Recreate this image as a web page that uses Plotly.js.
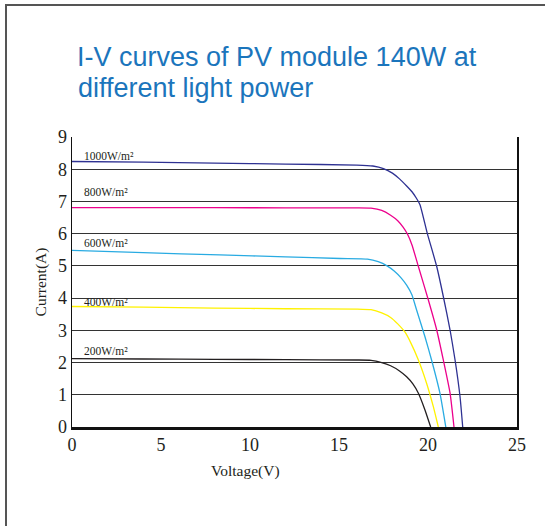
<!DOCTYPE html>
<html>
<head>
<meta charset="utf-8">
<script src="https://cdn.plot.ly/plotly-3.0.1.min.js"></script>
<style>
html,body{margin:0;padding:0;background:#fff;}
#wrap{position:relative;width:545px;height:526px;overflow:hidden;}
#chart{position:absolute;left:0;top:0;width:545px;height:526px;}
#frame{position:absolute;left:5px;top:4px;width:600px;height:600px;border-left:2px solid #555;border-top:2px solid #555;pointer-events:none;}
</style>
</head>
<body>
<div id="wrap"><div id="chart"></div><div id="frame"></div></div>
<script>
// Irradiance levels
const seriesNames = ['1000W/m²','800W/m²','600W/m²','400W/m²','200W/m²'];
const seriesColors = ['#2e3192','#ec008c','#29abe2','#fff200','#231f20'];

// Voltage (V) / Current (A)
const v1000 = [0, 4, 8, 12, 16, 16.9, 17.5, 18.0, 18.4, 18.8, 19.1, 19.35, 19.55, 19.96, 20.49, 20.86, 21.24, 21.52, 21.8, 21.95];
const i1000 = [8.24, 8.22, 8.19, 8.16, 8.13, 8.10, 8.02, 7.88, 7.70, 7.48, 7.30, 7.10, 6.90, 6.01, 4.98, 4.05, 3.01, 2.08, 0.94, 0];

const v800 = [0, 4, 8, 12, 16, 16.8, 17.4, 17.9, 18.3, 18.6, 18.85, 19.1, 19.46, 20.02, 20.49, 20.86, 21.24, 21.46];
const i800 = [6.81, 6.81, 6.81, 6.80, 6.80, 6.79, 6.72, 6.57, 6.40, 6.20, 5.98, 5.65, 4.98, 3.94, 3.01, 2.08, 1.05, 0];

const v600 = [0, 4, 8.3, 12, 15.06, 16.6, 17.2, 17.7, 18.1, 18.5, 18.8, 19.1, 19.36, 19.83, 20.2, 20.67, 21.0];
const i600 = [5.48, 5.41, 5.34, 5.28, 5.23, 5.21, 5.13, 5.00, 4.84, 4.62, 4.40, 4.10, 3.63, 2.80, 2.08, 1.05, 0];

const v400 = [0, 4, 8, 12, 16, 16.8, 17.4, 17.9, 18.3, 18.7, 19.0, 19.46, 19.92, 20.3, 20.58];
const i400 = [3.74, 3.72, 3.69, 3.67, 3.66, 3.64, 3.54, 3.40, 3.20, 2.95, 2.65, 2.08, 1.36, 0.63, 0];

const v200 = [0, 4, 8, 12, 16, 16.8, 17.4, 17.9, 18.4, 18.8, 19.15, 19.46, 19.83, 20.15];
const i200 = [2.12, 2.11, 2.10, 2.09, 2.08, 2.07, 2.00, 1.90, 1.74, 1.56, 1.34, 1.05, 0.53, 0];

// label positions (data units)
const labelV = [0.55, 0.55, 0.55, 0.55, 0.55];
const labelI = [8.42, 7.30, 5.71, 3.88, 2.36];

const xTicks = [0, 5, 10, 15, 20, 25];
const yTicks = [0, 1, 2, 3, 4, 5, 6, 7, 8, 9];

const titleLines = ['I-V curves of PV module 140W at', 'different light power'];

const vs = [v1000, v800, v600, v400, v200];
const is = [i1000, i800, i600, i400, i200];

const traces = vs.map((v, k) => ({
  x: v, y: is[k], type: 'scatter', mode: 'lines', name: seriesNames[k],
  line: {color: seriesColors[k], width: 1.3, shape: 'spline', smoothing: 0.5},
  hoverinfo: 'skip'
}));

const serif = 'Liberation Serif, Times New Roman, serif';
const annotations = seriesNames.map((n, k) => ({
  x: labelV[k], y: labelI[k], xref: 'x', yref: 'y', text: n, showarrow: false,
  xanchor: 'left', yanchor: 'middle',
  font: {family: serif, size: 11.5, color: '#231f20'}
}));
annotations.push({
  x: (245 - 72) / 445, y: -44 / 290, xref: 'paper', yref: 'paper', text: 'Voltage(V)',
  showarrow: false, xanchor: 'center', yanchor: 'middle',
  font: {family: serif, size: 15.5, color: '#231f20'}
});
annotations.push({
  x: (76 - 72) / 445, y: (427 - 88) / 290, xref: 'paper', yref: 'paper', text: titleLines[1],
  showarrow: false, xanchor: 'left', yanchor: 'middle',
  font: {family: 'Liberation Sans, Arial, sans-serif', size: 27, color: '#1b75bc'}
});

const layout = {
  width: 545, height: 526,
  margin: {l: 72, r: 28, t: 137, b: 99},
  paper_bgcolor: '#fff', plot_bgcolor: '#fff',
  showlegend: false,
  title: {
    text: titleLines[0],
    xref: 'container', yref: 'container', x: 77 / 545, xanchor: 'left',
    y: 1 - 57 / 526, yanchor: 'middle',
    font: {family: 'Liberation Sans, Arial, sans-serif', size: 27, color: '#1b75bc'}
  },
  xaxis: {
    range: [0, 25], tickvals: xTicks, ticktext: xTicks.map(String),
    showgrid: false, zeroline: false,
    showline: true, linecolor: '#111', linewidth: 2.5, mirror: false,
    ticks: '', ticklen: 0,
    tickfont: {family: serif, size: 18, color: '#231f20'}
  },
  yaxis: {
    range: [0, 9], tickvals: yTicks, ticktext: yTicks.map(String),
    showgrid: true, gridcolor: '#333', gridwidth: 1.2, zeroline: false,
    showline: true, linecolor: '#111', linewidth: 1.5, mirror: true,
    ticks: '', ticklen: 0,
    tickfont: {family: serif, size: 18, color: '#231f20'},
    title: {text: 'Current(A)', standoff: 7,
      font: {family: serif, size: 15.5, color: '#231f20'}}
  },
  annotations: annotations
};

Plotly.newPlot('chart', traces, layout, {displayModeBar: false, staticPlot: true});
</script>
</body>
</html>
